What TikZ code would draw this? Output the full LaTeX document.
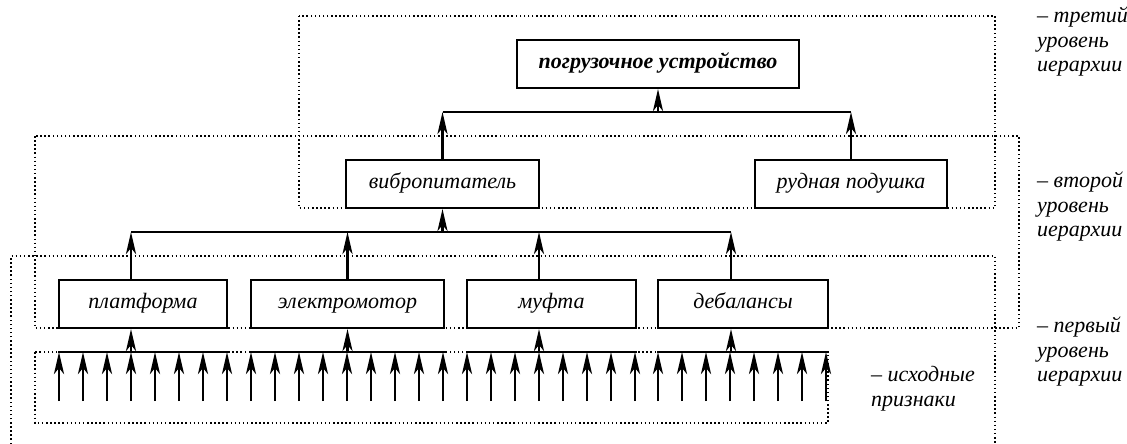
\documentclass[tikz,border=0pt]{standalone}
\usepackage{fontspec}
\setmainfont{Liberation Serif}
\usetikzlibrary{arrows.meta}
\begin{document}
\begin{tikzpicture}[x=1pt,y=-1pt,
  lvl/.style={draw=black, line width=1.5pt, dash pattern=on 1.5pt off 2.6pt},
  blk/.style={draw, line width=2pt, minimum height=48pt, inner sep=0pt,
    font=\itshape\fontsize{22}{24}\selectfont, text height=14pt, text depth=5pt},
  bus/.style={line width=2pt},
  up/.style={line width=2.8pt, -{Stealth[length=22pt,width=10pt,inset=6pt]}},
  note/.style={anchor=base west, align=left, inner sep=0pt,
    font=\itshape\fontsize{22}{24.5}\selectfont}
]
\useasboundingbox (0,0) rectangle (1127,444);

% hierarchy levels (dotted frames)
\draw[lvl] (299,16) rectangle (995,208);
\draw[lvl] (35,136) rectangle (1019,328);
\draw[lvl] (11,444) -- (11,256) -- (995,256) -- (995,444);
\draw[lvl] (35,352) rectangle (828,423);

% blocks
\node[blk, minimum width=282pt, font=\bfseries\itshape\fontsize{22}{24}\selectfont] (top) at (658,64) {погрузочное устройство};
\node[blk, minimum width=193pt] (vib) at (442.5,184) {вибропитатель};
\node[blk, minimum width=192pt] (rud) at (851,184) {рудная подушка};
\node[blk, minimum width=168pt] (plat) at (143,304) {платформа};
\node[blk, minimum width=193pt] (motor) at (347.5,304) {электромотор};
\node[blk, minimum width=169pt] (muft) at (551.5,304) {муфта};
\node[blk, minimum width=170pt] (deb) at (743,304) {дебалансы};

% attachment points of the connectors
\coordinate (pa) at (131,0);
\coordinate (ma) at (347.5,0);
\coordinate (fa) at (539,0);
\coordinate (da) at (731,0);
\coordinate (va) at (442.5,0);
\coordinate (ra) at (851,0);
\coordinate (ta) at (658,0);
\coordinate (bus2) at (0,232);
\coordinate (bus3) at (0,112);
\coordinate (bus1) at (0,352);

% initial features feeding the first level
\foreach \x in {59,83,...,227,251,275,...,443,467,491,...,635,658,682,...,826}
  \draw[up] (\x,401) -- (\x,352);
\draw[bus] (plat.south west |- bus1) -- (plat.south east |- bus1);
\draw[bus] (motor.south west |- bus1) -- (motor.south east |- bus1);
\draw[bus] (muft.south west |- bus1) -- (muft.south east |- bus1);
\draw[bus] (deb.south west |- bus1) -- (deb.south east |- bus1);
\draw[up] (pa |- bus1) -- (pa |- plat.south);
\draw[up] (ma |- bus1) -- (ma |- motor.south);
\draw[up] (fa |- bus1) -- (fa |- muft.south);
\draw[up] (da |- bus1) -- (da |- deb.south);

% first level -> second level
\draw[bus] (pa |- bus2) -- (da |- bus2);
\draw[up] (pa |- plat.north) -- (pa |- bus2);
\draw[up] (ma |- motor.north) -- (ma |- bus2);
\draw[up] (fa |- muft.north) -- (fa |- bus2);
\draw[up] (da |- deb.north) -- (da |- bus2);
\draw[up] (va |- bus2) -- (vib.south);

% second level -> third level
\draw[bus] (va |- bus3) -- (ra |- bus3);
\draw[up] (vib.north) -- (va |- bus3);
\draw[up] (rud.north) -- (ra |- bus3);
\draw[up] (ta |- bus3) -- (top.south);

% level captions (anchored at the baseline of the last line)
\node[note] (n3) at (1037,72) {– третий\\уровень\\иерархии};
\node[note] (n2) at (1037,236.5) {– второй\\уровень\\иерархии};
\node[note] (n1) at (1037,381.5) {– первый\\уровень\\иерархии};
\node[note] (n0) at (871,406) {– исходные\\признаки};
\end{tikzpicture}
\end{document}
